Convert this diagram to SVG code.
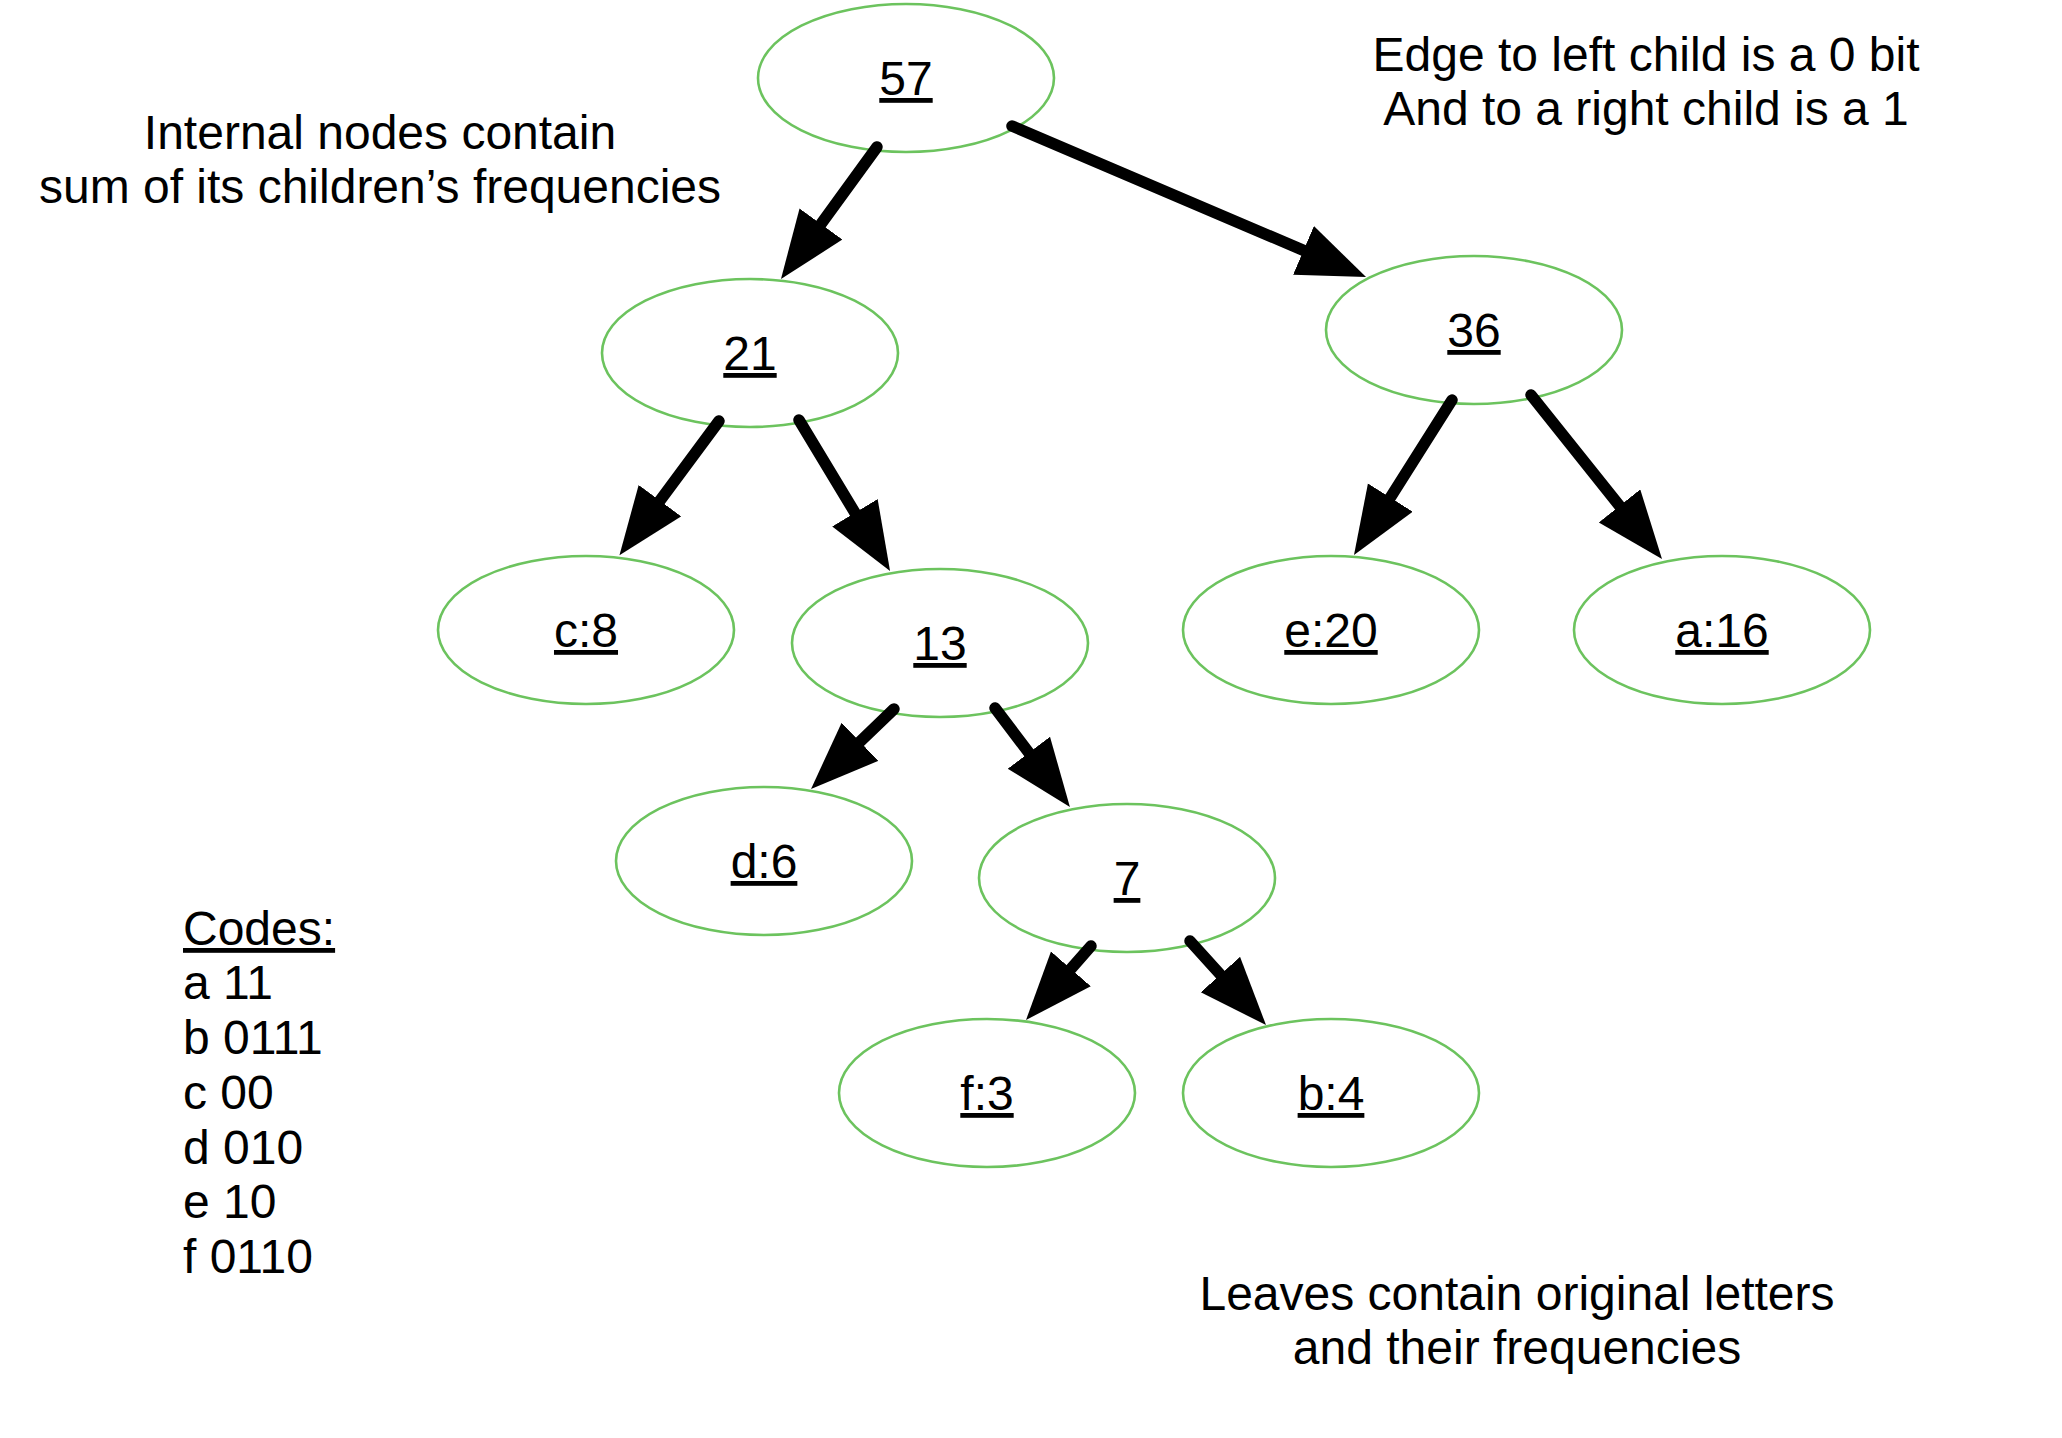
<svg xmlns="http://www.w3.org/2000/svg" width="2062" height="1438" viewBox="0 0 2062 1438">
  <style>
    .node ellipse { fill: #ffffff; stroke: #6CC35E; stroke-width: 2.6; }
    .node text { font-family: "Liberation Sans", Arial, sans-serif; font-size: 48px; text-anchor: middle; text-decoration: underline; fill: #000; }
    .note { font-family: "Liberation Sans", Arial, sans-serif; font-size: 48px; fill: #000; }
    .mid { text-anchor: middle; }
    .edge { stroke: #000; stroke-width: 11.5; stroke-linecap: round; fill: none; marker-end: url(#arrow); }
  </style>
  <defs>
    <marker id="arrow" markerUnits="userSpaceOnUse" markerWidth="70" markerHeight="56" viewBox="0 0 70 56" refX="10" refY="26.5" orient="auto">
      <path d="M0,0 L68,26.5 L0,53 Z" fill="#000"/>
    </marker>
  </defs>
  <rect width="2062" height="1438" fill="#ffffff"/>

  <g id="n57" class="node"><ellipse cx="906" cy="78" rx="148" ry="74"/><text x="906" y="95">57</text></g>
  <g id="n21" class="node"><ellipse cx="750" cy="353" rx="148" ry="74"/><text x="750" y="370">21</text></g>
  <g id="n36" class="node"><ellipse cx="1474" cy="330" rx="148" ry="74"/><text x="1474" y="347">36</text></g>
  <g id="nc8" class="node"><ellipse cx="586" cy="630" rx="148" ry="74"/><text x="586" y="647">c:8</text></g>
  <g id="n13" class="node"><ellipse cx="940" cy="643" rx="148" ry="74"/><text x="940" y="660">13</text></g>
  <g id="ne20" class="node"><ellipse cx="1331" cy="630" rx="148" ry="74"/><text x="1331" y="647">e:20</text></g>
  <g id="na16" class="node"><ellipse cx="1722" cy="630" rx="148" ry="74"/><text x="1722" y="647">a:16</text></g>
  <g id="nd6" class="node"><ellipse cx="764" cy="861" rx="148" ry="74"/><text x="764" y="878">d:6</text></g>
  <g id="n7" class="node"><ellipse cx="1127" cy="878" rx="148" ry="74"/><text x="1127" y="895">7</text></g>
  <g id="nf3" class="node"><ellipse cx="987" cy="1093" rx="148" ry="74"/><text x="987" y="1110">f:3</text></g>
  <g id="nb4" class="node"><ellipse cx="1331" cy="1093" rx="148" ry="74"/><text x="1331" y="1110">b:4</text></g>

  <g id="connectors">
    <!-- each line ends 58px before the arrow tip -->
    <line class="edge" x1="877" y1="147" x2="815.1" y2="232.1"/>
    <line class="edge" x1="1012" y1="126" x2="1312.7" y2="254.3"/>
    <line class="edge" x1="719" y1="421" x2="654.0" y2="508.7"/>
    <line class="edge" x1="799" y1="420" x2="860.1" y2="521.3"/>
    <line class="edge" x1="1452" y1="400" x2="1385.0" y2="506.0"/>
    <line class="edge" x1="1531" y1="395" x2="1625.8" y2="513.7"/>
    <line class="edge" x1="894" y1="709" x2="852.8" y2="748.7"/>
    <line class="edge" x1="995" y1="708" x2="1034.9" y2="760.7"/>
    <line class="edge" x1="1091" y1="946" x2="1064.3" y2="976.4"/>
    <line class="edge" x1="1190" y1="941" x2="1227.1" y2="982.0"/>
  </g>

  <g id="note-internal">
    <text class="note mid" x="380" y="149">Internal nodes contain</text>
    <text class="note mid" x="380" y="203">sum of its children’s frequencies</text>
  </g>
  <g id="note-edge">
    <text class="note mid" x="1646" y="71">Edge to left child is a 0 bit</text>
    <text class="note mid" x="1646" y="125">And to a right child is a 1</text>
  </g>
  <g id="note-leaves">
    <text class="note mid" x="1517" y="1310">Leaves contain original letters</text>
    <text class="note mid" x="1517" y="1364">and their frequencies</text>
  </g>
  <g id="codes">
    <text class="note" x="183" y="945" text-decoration="underline">Codes:</text>
    <text class="note" x="183" y="999">a 11</text>
    <text class="note" x="183" y="1054">b 0111</text>
    <text class="note" x="183" y="1109">c 00</text>
    <text class="note" x="183" y="1164">d 010</text>
    <text class="note" x="183" y="1218">e 10</text>
    <text class="note" x="183" y="1273">f 0110</text>
  </g>
</svg>
